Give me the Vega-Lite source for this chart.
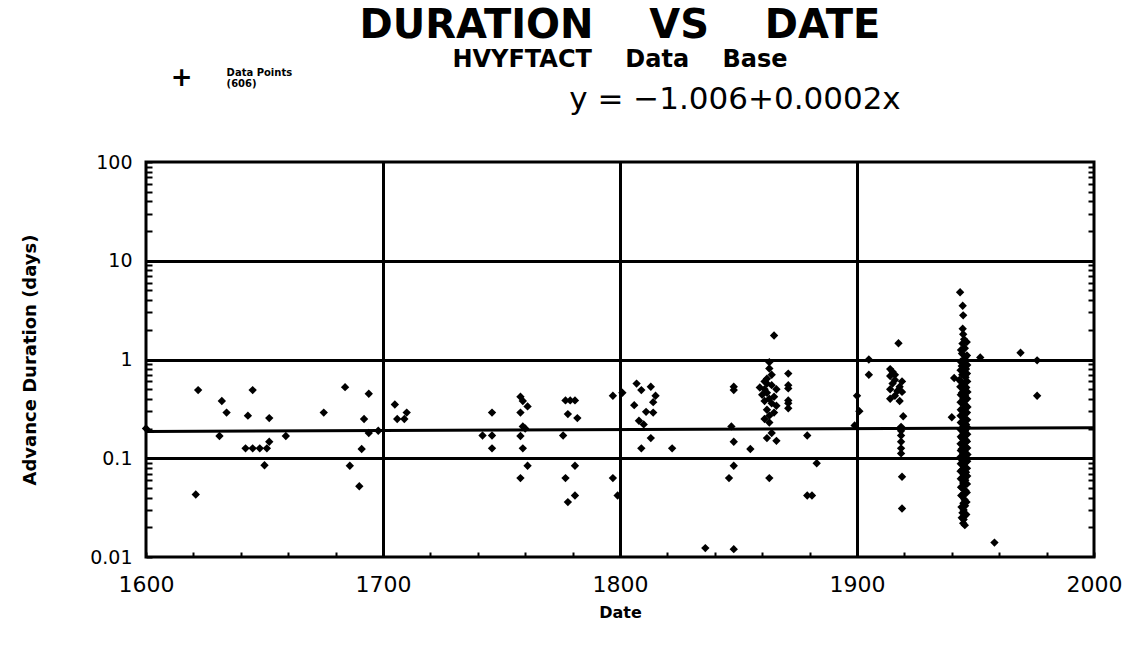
{
  "$schema": "https://vega.github.io/schema/vega-lite/v6.json",
  "autosize": {"type": "none"},
  "width": 948,
  "height": 395,
  "padding": {"left": 146, "top": 162, "right": 41, "bottom": 92},
  "background": "white",
  "config": {
    "view": {"stroke": "black", "strokeWidth": 3},
    "axis": {"domain": false}
  },
  "resolve": {"axis": {"y": "independent"}},
  "datasets": {
    "pts": [
      {"year": 1600, "days": 0.2}, {"year": 1621, "days": 0.043}, {"year": 1622, "days": 0.49},
      {"year": 1631, "days": 0.168}, {"year": 1632, "days": 0.38}, {"year": 1634, "days": 0.29},
      {"year": 1643, "days": 0.27}, {"year": 1645, "days": 0.49}, {"year": 1642, "days": 0.126},
      {"year": 1645, "days": 0.126}, {"year": 1648, "days": 0.126}, {"year": 1651, "days": 0.126},
      {"year": 1652, "days": 0.147}, {"year": 1650, "days": 0.085}, {"year": 1652, "days": 0.255},
      {"year": 1659, "days": 0.168}, {"year": 1675, "days": 0.29}, {"year": 1684, "days": 0.525},
      {"year": 1686, "days": 0.084}, {"year": 1690, "days": 0.052}, {"year": 1691, "days": 0.124},
      {"year": 1692, "days": 0.25}, {"year": 1694, "days": 0.45}, {"year": 1694, "days": 0.18},
      {"year": 1698, "days": 0.19}, {"year": 1705, "days": 0.35}, {"year": 1706, "days": 0.25},
      {"year": 1709, "days": 0.25}, {"year": 1710, "days": 0.29},
      {"year": 1742, "days": 0.17}, {"year": 1746, "days": 0.17}, {"year": 1746, "days": 0.29},
      {"year": 1746, "days": 0.126}, {"year": 1758, "days": 0.42}, {"year": 1759, "days": 0.38},
      {"year": 1761, "days": 0.335}, {"year": 1758, "days": 0.29}, {"year": 1759, "days": 0.21},
      {"year": 1760, "days": 0.2}, {"year": 1758, "days": 0.168}, {"year": 1759, "days": 0.126},
      {"year": 1761, "days": 0.084}, {"year": 1758, "days": 0.063}, {"year": 1777, "days": 0.385},
      {"year": 1779, "days": 0.385}, {"year": 1781, "days": 0.385}, {"year": 1778, "days": 0.28},
      {"year": 1782, "days": 0.255}, {"year": 1776, "days": 0.17}, {"year": 1781, "days": 0.084},
      {"year": 1777, "days": 0.063}, {"year": 1778, "days": 0.036}, {"year": 1781, "days": 0.042},
      {"year": 1797, "days": 0.43}, {"year": 1801, "days": 0.46}, {"year": 1797, "days": 0.063},
      {"year": 1799, "days": 0.042},
      {"year": 1807, "days": 0.57}, {"year": 1809, "days": 0.49}, {"year": 1813, "days": 0.53},
      {"year": 1815, "days": 0.43}, {"year": 1814, "days": 0.37}, {"year": 1806, "days": 0.345},
      {"year": 1811, "days": 0.295}, {"year": 1814, "days": 0.29}, {"year": 1808, "days": 0.24},
      {"year": 1810, "days": 0.22}, {"year": 1813, "days": 0.16}, {"year": 1809, "days": 0.126},
      {"year": 1822, "days": 0.126},
      {"year": 1836, "days": 0.0123}, {"year": 1848, "days": 0.012}, {"year": 1848, "days": 0.53},
      {"year": 1848, "days": 0.49}, {"year": 1847, "days": 0.21}, {"year": 1848, "days": 0.147},
      {"year": 1855, "days": 0.124}, {"year": 1848, "days": 0.084}, {"year": 1846, "days": 0.063},
      {"year": 1863, "days": 0.063},
      {"year": 1865, "days": 1.75}, {"year": 1863, "days": 0.94}, {"year": 1863, "days": 0.81},
      {"year": 1862, "days": 0.64}, {"year": 1862, "days": 0.57}, {"year": 1859, "days": 0.52},
      {"year": 1861, "days": 0.5}, {"year": 1864, "days": 0.55}, {"year": 1866, "days": 0.5},
      {"year": 1862, "days": 0.46}, {"year": 1863, "days": 0.4}, {"year": 1864, "days": 0.36},
      {"year": 1866, "days": 0.34}, {"year": 1862, "days": 0.31}, {"year": 1863, "days": 0.27},
      {"year": 1861, "days": 0.25}, {"year": 1863, "days": 0.23}, {"year": 1864, "days": 0.18},
      {"year": 1862, "days": 0.16}, {"year": 1866, "days": 0.15},
      {"year": 1860, "days": 0.44}, {"year": 1865, "days": 0.42}, {"year": 1861, "days": 0.38},
      {"year": 1864, "days": 0.7}, {"year": 1861, "days": 0.6}, {"year": 1865, "days": 0.29},
      {"year": 1871, "days": 0.72}, {"year": 1871, "days": 0.55}, {"year": 1871, "days": 0.51},
      {"year": 1871, "days": 0.385}, {"year": 1871, "days": 0.36}, {"year": 1871, "days": 0.32},
      {"year": 1879, "days": 0.17}, {"year": 1883, "days": 0.089}, {"year": 1879, "days": 0.042},
      {"year": 1881, "days": 0.042},
      {"year": 1900, "days": 0.43}, {"year": 1901, "days": 0.3}, {"year": 1899, "days": 0.215},
      {"year": 1905, "days": 1.0}, {"year": 1905, "days": 0.7},
      {"year": 1917.5, "days": 1.46}, {"year": 1914, "days": 0.8}, {"year": 1915, "days": 0.75},
      {"year": 1914, "days": 0.68}, {"year": 1916, "days": 0.62}, {"year": 1915, "days": 0.57},
      {"year": 1918, "days": 0.53}, {"year": 1914, "days": 0.5}, {"year": 1919, "days": 0.47},
      {"year": 1916, "days": 0.43}, {"year": 1914, "days": 0.4}, {"year": 1918, "days": 0.38},
      {"year": 1919, "days": 0.6}, {"year": 1916, "days": 0.7}, {"year": 1917, "days": 0.48},
      {"year": 1919.5, "days": 0.266}, {"year": 1918.6, "days": 0.208},
      {"year": 1918.6, "days": 0.19}, {"year": 1918.6, "days": 0.17}, {"year": 1918.6, "days": 0.147},
      {"year": 1918.6, "days": 0.126}, {"year": 1918.6, "days": 0.112}, {"year": 1919, "days": 0.065},
      {"year": 1919, "days": 0.031},
      {"year": 1940, "days": 0.26}, {"year": 1941, "days": 0.65},
      {"year": 1943.5, "days": 4.8}, {"year": 1944.6, "days": 3.5}, {"year": 1944.8, "days": 2.8},
      {"year": 1944.6, "days": 2.05}, {"year": 1944.8, "days": 1.8}, {"year": 1945.2, "days": 1.6},
      {"year": 1944.5, "days": 1.45}, {"year": 1945.5, "days": 1.3}, {"year": 1944.3, "days": 1.15},
      {"year": 1945.7, "days": 1.05}, {"year": 1944.8, "days": 0.98}, {"year": 1945.3, "days": 0.92},
      {"year": 1944.2, "days": 0.86}, {"year": 1946, "days": 0.8}, {"year": 1945, "days": 0.75},
      {"year": 1944.4, "days": 0.7}, {"year": 1945.8, "days": 0.66}, {"year": 1943.2, "days": 0.62},
      {"year": 1945.2, "days": 0.58}, {"year": 1944.6, "days": 0.55}, {"year": 1946.1, "days": 0.52},
      {"year": 1945, "days": 0.49}, {"year": 1944.3, "days": 0.46}, {"year": 1945.6, "days": 0.43},
      {"year": 1944.9, "days": 0.4}, {"year": 1945.4, "days": 0.38}, {"year": 1944.4, "days": 0.36},
      {"year": 1946, "days": 0.34}, {"year": 1945, "days": 0.32}, {"year": 1944.6, "days": 0.3},
      {"year": 1945.7, "days": 0.28}, {"year": 1944.3, "days": 0.265}, {"year": 1945.2, "days": 0.25},
      {"year": 1944.8, "days": 0.235}, {"year": 1946, "days": 0.22}, {"year": 1945, "days": 0.21},
      {"year": 1944.4, "days": 0.2}, {"year": 1945.6, "days": 0.19}, {"year": 1944.9, "days": 0.18},
      {"year": 1945.3, "days": 0.17}, {"year": 1944.3, "days": 0.16}, {"year": 1946, "days": 0.152},
      {"year": 1945, "days": 0.145}, {"year": 1944.6, "days": 0.138}, {"year": 1945.7, "days": 0.13},
      {"year": 1944.2, "days": 0.124}, {"year": 1945.2, "days": 0.118}, {"year": 1944.8, "days": 0.112},
      {"year": 1945.9, "days": 0.106}, {"year": 1945, "days": 0.1}, {"year": 1944.4, "days": 0.095},
      {"year": 1945.5, "days": 0.09}, {"year": 1944.9, "days": 0.085}, {"year": 1945.3, "days": 0.08},
      {"year": 1944.3, "days": 0.076}, {"year": 1946, "days": 0.072}, {"year": 1945, "days": 0.068},
      {"year": 1944.6, "days": 0.064}, {"year": 1945.7, "days": 0.06}, {"year": 1944.8, "days": 0.056},
      {"year": 1945.2, "days": 0.053}, {"year": 1944.4, "days": 0.05}, {"year": 1945.8, "days": 0.047},
      {"year": 1945, "days": 0.044}, {"year": 1944.6, "days": 0.041}, {"year": 1945.4, "days": 0.038},
      {"year": 1944.9, "days": 0.035}, {"year": 1945.6, "days": 0.033}, {"year": 1945, "days": 0.03},
      {"year": 1944.5, "days": 0.028}, {"year": 1945.4, "days": 0.026}, {"year": 1945, "days": 0.024},
      {"year": 1944.8, "days": 0.022}, {"year": 1945.5, "days": 0.021},
      {"year": 1946.3, "days": 1.5}, {"year": 1943.9, "days": 1.25}, {"year": 1946.4, "days": 1.1},
      {"year": 1943.8, "days": 0.95}, {"year": 1946.5, "days": 0.88}, {"year": 1943.7, "days": 0.78},
      {"year": 1946.4, "days": 0.72}, {"year": 1943.8, "days": 0.6}, {"year": 1946.5, "days": 0.6},
      {"year": 1943.6, "days": 0.53}, {"year": 1946.6, "days": 0.47}, {"year": 1943.8, "days": 0.44},
      {"year": 1946.5, "days": 0.4}, {"year": 1943.7, "days": 0.37}, {"year": 1946.6, "days": 0.33},
      {"year": 1943.8, "days": 0.31}, {"year": 1946.4, "days": 0.29}, {"year": 1943.7, "days": 0.27},
      {"year": 1946.5, "days": 0.245}, {"year": 1943.8, "days": 0.23}, {"year": 1946.6, "days": 0.205},
      {"year": 1943.7, "days": 0.195}, {"year": 1946.5, "days": 0.175}, {"year": 1943.8, "days": 0.165},
      {"year": 1946.4, "days": 0.148}, {"year": 1943.7, "days": 0.14}, {"year": 1946.5, "days": 0.127},
      {"year": 1943.8, "days": 0.12}, {"year": 1946.6, "days": 0.109}, {"year": 1943.7, "days": 0.103},
      {"year": 1946.5, "days": 0.093}, {"year": 1943.8, "days": 0.088}, {"year": 1946.4, "days": 0.079},
      {"year": 1943.7, "days": 0.074}, {"year": 1946.5, "days": 0.066}, {"year": 1943.8, "days": 0.062},
      {"year": 1946.4, "days": 0.055}, {"year": 1943.9, "days": 0.051}, {"year": 1946.3, "days": 0.045},
      {"year": 1944, "days": 0.042}, {"year": 1946.2, "days": 0.036}, {"year": 1944.1, "days": 0.032},
      {"year": 1946.1, "days": 0.027}, {"year": 1944.2, "days": 0.025},
      {"year": 1952, "days": 1.05}, {"year": 1958, "days": 0.014}, {"year": 1969, "days": 1.17},
      {"year": 1976, "days": 0.98}, {"year": 1976, "days": 0.43}
    ],
    "fit": [
      {"year": 1600, "days": 0.187},
      {"year": 2000, "days": 0.204}
    ],
    "one": [{}]
  },
  "layer": [
    {
      "data": {"name": "pts"},
      "mark": {"type": "point", "shape": "diamond", "filled": true, "size": 70, "color": "black", "opacity": 1},
      "encoding": {
        "x": {
          "field": "year", "type": "quantitative",
          "scale": {"domain": [1600, 2000], "nice": false, "zero": false},
          "axis": {
            "title": "Date",
            "titleFont": "DejaVu Sans", "titleFontSize": 16, "titleFontWeight": "bold", "titleColor": "black",
            "titlePadding": 9,
            "values": [1600,1620,1640,1660,1680,1700,1720,1740,1760,1780,1800,1820,1840,1860,1880,1900,1920,1940,1960,1980,2000],
            "labelExpr": "datum.value % 100 == 0 ? datum.label : ''",
            "format": "d",
            "labelFont": "DejaVu Sans", "labelFontSize": 22, "labelColor": "black",
            "labelPadding": 22, "labelFlush": false,
            "tickSize": -5, "tickWidth": 2, "tickColor": "black",
            "grid": true, "gridColor": "black", "gridWidth": 3,
            "gridOpacity": {"condition": {"test": "datum.value == 1700 || datum.value == 1800 || datum.value == 1900", "value": 1}, "value": 0}
          }
        },
        "y": {
          "field": "days", "type": "quantitative",
          "scale": {"type": "log", "domain": [0.01, 100], "nice": false},
          "axis": {
            "orient": "left",
            "title": "Advance Duration (days)",
            "titleFont": "DejaVu Sans", "titleFontSize": 18, "titleFontWeight": 600, "titleColor": "black",
            "titlePadding": 50,
            "values": [0.01,0.02,0.03,0.04,0.05,0.06,0.07,0.08,0.09,0.1,0.2,0.3,0.4,0.5,0.6,0.7,0.8,0.9,1,2,3,4,5,6,7,8,9,10,20,30,40,50,60,70,80,90,100],
            "labelExpr": "datum.value == 0.01 ? '0.01' : datum.value == 0.1 ? '0.1' : datum.value == 1 ? '1' : datum.value == 10 ? '10' : datum.value == 100 ? '100' : ''",
            "labelFont": "DejaVu Sans", "labelFontSize": 19, "labelColor": "black",
            "labelPadding": 20, "labelFlush": false,
            "tickSize": -6, "tickWidth": 2, "tickColor": "black",
            "grid": true, "gridColor": "black", "gridWidth": 3,
            "gridOpacity": {"condition": {"test": "datum.value == 0.1 || datum.value == 1 || datum.value == 10", "value": 1}, "value": 0}
          }
        }
      }
    },
    {
      "data": {"name": "fit"},
      "mark": {"type": "line", "color": "black", "strokeWidth": 3},
      "encoding": {
        "x": {"field": "year", "type": "quantitative"},
        "y": {
          "field": "days", "type": "quantitative",
          "axis": {
            "orient": "right", "title": null, "labels": false,
            "values": [0.02,0.03,0.04,0.05,0.06,0.07,0.08,0.09,0.2,0.3,0.4,0.5,0.6,0.7,0.8,0.9,2,3,4,5,6,7,8,9,20,30,40,50,60,70,80,90],
            "tickSize": -6, "tickWidth": 2, "tickColor": "black", "grid": false
          }
        }
      }
    },
    {
      "data": {"name": "one"},
      "mark": {"type": "text", "text": "DURATION\u00a0\u00a0\u00a0\u00a0VS\u00a0\u00a0\u00a0\u00a0DATE", "font": "DejaVu Sans", "fontSize": 40, "fontWeight": "bold", "color": "black", "align": "center", "baseline": "middle"},
      "encoding": {
        "x": {"datum": 1800, "type": "quantitative"},
        "y": {"datum": 2382, "type": "quantitative", "axis": null}
      }
    },
    {
      "data": {"name": "one"},
      "mark": {"type": "text", "text": "HVYFTACT\u00a0\u00a0\u00a0\u00a0Data\u00a0\u00a0\u00a0\u00a0Base", "font": "DejaVu Sans", "fontSize": 24, "fontWeight": "bold", "color": "black", "align": "center", "baseline": "middle"},
      "encoding": {
        "x": {"datum": 1800, "type": "quantitative"},
        "y": {"datum": 1079, "type": "quantitative", "axis": null}
      }
    },
    {
      "data": {"name": "one"},
      "mark": {"type": "text", "text": "y = \u22121.006+0.0002x", "font": "DejaVu Sans", "fontSize": 31, "color": "black", "align": "center", "baseline": "middle"},
      "encoding": {
        "x": {"datum": 1848.5, "type": "quantitative"},
        "y": {"datum": 425, "type": "quantitative", "axis": null}
      }
    },
    {
      "data": {"name": "one"},
      "mark": {"type": "text", "text": "+", "font": "DejaVu Sans", "fontSize": 26, "fontWeight": "bold", "color": "black", "align": "center", "baseline": "middle"},
      "encoding": {
        "x": {"datum": 1615, "type": "quantitative"},
        "y": {"datum": 709, "type": "quantitative", "axis": null}
      }
    },
    {
      "data": {"name": "one"},
      "mark": {"type": "text", "text": ["Data Points", "(606)"], "font": "DejaVu Sans", "fontSize": 10, "fontWeight": "bold", "color": "black", "align": "left", "baseline": "middle", "lineHeight": 11},
      "encoding": {
        "x": {"datum": 1634, "type": "quantitative"},
        "y": {"datum": 796, "type": "quantitative", "axis": null}
      }
    }
  ]
}
